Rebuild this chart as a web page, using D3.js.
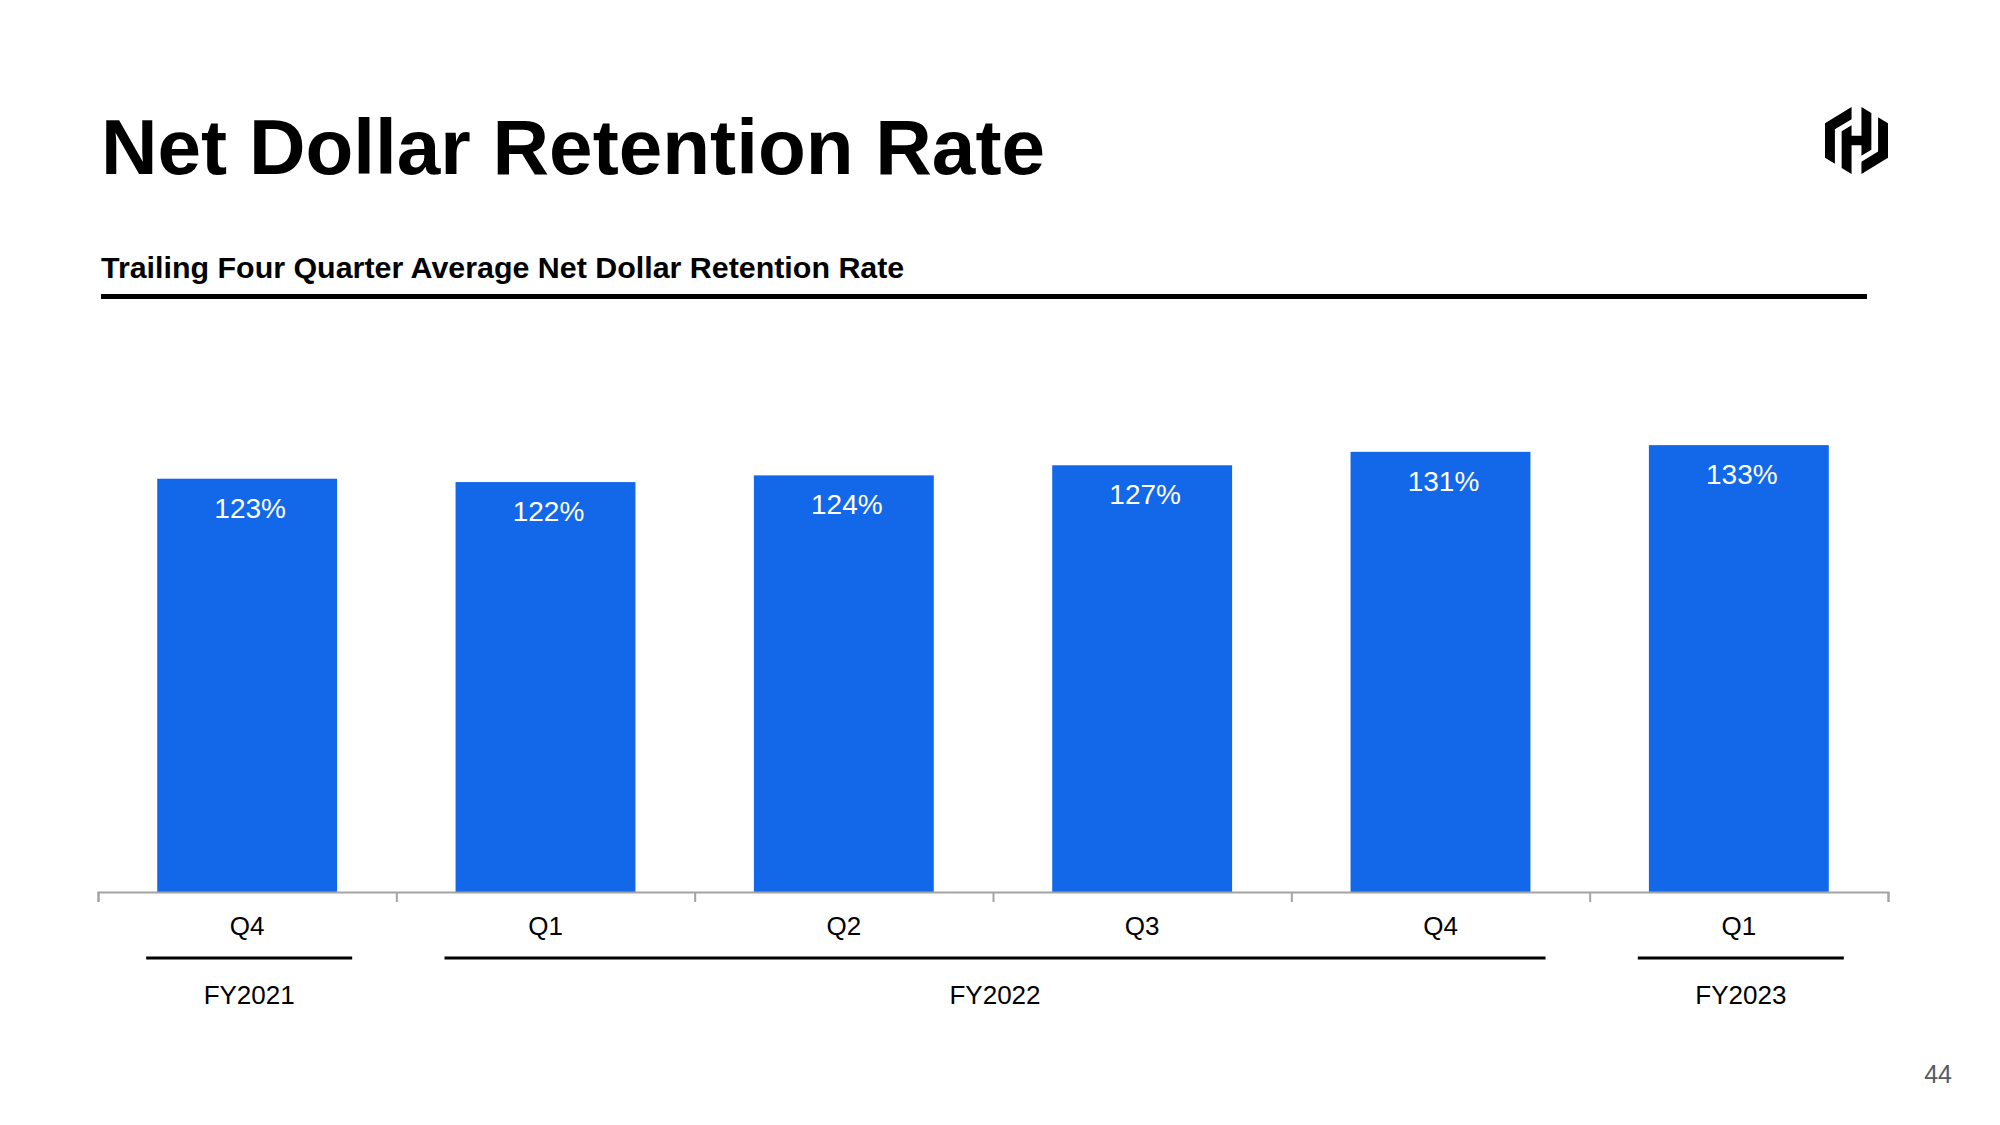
<!DOCTYPE html>
<html>
<head>
<meta charset="utf-8">
<script src="https://cdn.jsdelivr.net/npm/d3@7"></script>
<style>
  html, body { margin: 0; padding: 0; background: #ffffff; }
  svg { display: block; }
  text { font-family: "Liberation Sans", Arial, Helvetica, sans-serif; }
</style>
</head>
<body>
<svg id="chart" width="2000" height="1125"></svg>
<script>
// ---- data ----
const quarters = ["Q4", "Q1", "Q2", "Q3", "Q4", "Q1"];
const retention = [123, 122, 124, 127, 131, 133];
const fyLabels = ["FY2021", "FY2022", "FY2023"];
const fyFirst = [0, 1, 5];
const fyLast = [0, 4, 5];
const titleText = "Net Dollar Retention Rate";
const subtitleText = "Trailing Four Quarter Average Net Dollar Retention Rate";
const pageNumber = "44";

// ---- layout ----
const W = 2000, H = 1125;
const axisLeft = 98, axisRight = 1888, baseY = 892;
const barColor = "#1368ea";

const svg = d3.select("#chart");
svg.append("rect").attr("width", W).attr("height", H).attr("fill", "#fff");

// Title
svg.append("text")
  .attr("x", 101).attr("y", 174)
  .attr("font-size", 78.3).attr("font-weight", "bold").attr("fill", "#000")
  .text(titleText);

// Subtitle
svg.append("text")
  .attr("x", 101).attr("y", 278)
  .attr("font-size", 30.4).attr("font-weight", "bold").attr("fill", "#000")
  .text(subtitleText);

// Rule under subtitle
svg.append("line")
  .attr("x1", 101).attr("x2", 1867).attr("y1", 296.5).attr("y2", 296.5)
  .attr("stroke", "#000").attr("stroke-width", 5);

// Scales
const idx = quarters.map((d, i) => i);
const x = d3.scaleBand().domain(idx).range([axisLeft, axisRight])
  .paddingInner(0.397).paddingOuter(0.1985);
const y = d3.scaleLinear().domain([0, 150]).range([baseY, baseY - 504]);
const xEdges = d3.scaleLinear().domain([0, quarters.length]).range([axisLeft, axisRight]);

// Bars
svg.append("g").selectAll("rect").data(retention).join("rect")
  .attr("x", (d, i) => x(i))
  .attr("y", d => y(d))
  .attr("width", x.bandwidth())
  .attr("height", d => y(0) - y(d))
  .attr("fill", barColor);

// Value labels
svg.append("g").selectAll("text").data(retention).join("text")
  .attr("x", (d, i) => x(i) + x.bandwidth() / 2 + 3)
  .attr("y", d => y(d) + 39)
  .attr("text-anchor", "middle")
  .attr("font-size", 28).attr("fill", "#fff")
  .text(d => d + "%");

// Axis (line + boundary ticks)
const axis = d3.axisBottom(xEdges)
  .tickValues(d3.range(quarters.length + 1))
  .tickFormat("")
  .tickSizeInner(10).tickSizeOuter(10);
const gAxis = svg.append("g").attr("transform", `translate(0,${baseY})`).call(axis);
gAxis.selectAll("path, line").attr("stroke", "#a3a3a3").attr("stroke-width", 2);

// Quarter labels
svg.append("g").selectAll("text").data(quarters).join("text")
  .attr("x", (d, i) => x(i) + x.bandwidth() / 2)
  .attr("y", 935)
  .attr("text-anchor", "middle")
  .attr("font-size", 26).attr("fill", "#000")
  .text(d => d);

// Fiscal-year brackets
const center = i => x(i) + x.bandwidth() / 2;
svg.append("g").selectAll("line").data(fyLabels).join("line")
  .attr("x1", (d, k) => center(fyFirst[k]) - 101)
  .attr("x2", (d, k) => center(fyLast[k]) + 105)
  .attr("y1", 958).attr("y2", 958)
  .attr("stroke", "#000").attr("stroke-width", 3);

svg.append("g").selectAll("text").data(fyLabels).join("text")
  .attr("x", (d, k) => (center(fyFirst[k]) + center(fyLast[k])) / 2 + 2)
  .attr("y", 1004)
  .attr("text-anchor", "middle")
  .attr("font-size", 26).attr("fill", "#000")
  .text(d => d);

// Page number
svg.append("text")
  .attr("x", 1952).attr("y", 1083)
  .attr("text-anchor", "end")
  .attr("font-size", 25).attr("fill", "#555a63")
  .text(pageNumber);

// Logo (hexagonal H mark)
const logo = svg.append("g").attr("transform", "translate(1825,107) scale(2.625,2.79)");
const pieces = [
  [[10.114,0],[0,5.838],[0,18.162],[3.772,20.34],[3.772,8.016],[10.114,4.354]],
  [[13.886,24],[24,18.162],[24,5.838],[20.228,3.66],[20.228,15.984],[13.886,19.646]],
  [[13.886,0],[17.658,2.18],[17.658,15.31],[13.886,17.487],[13.886,13.72],[10.114,13.72],
   [10.114,24],[6.342,21.82],[6.342,8.69],[10.114,6.513],[10.114,10.28],[13.886,10.28]]
];
logo.selectAll("polygon").data(pieces).join("polygon")
  .attr("points", d => d.map(p => p.join(",")).join(" "))
  .attr("fill", "#000");
</script>
</body>
</html>
